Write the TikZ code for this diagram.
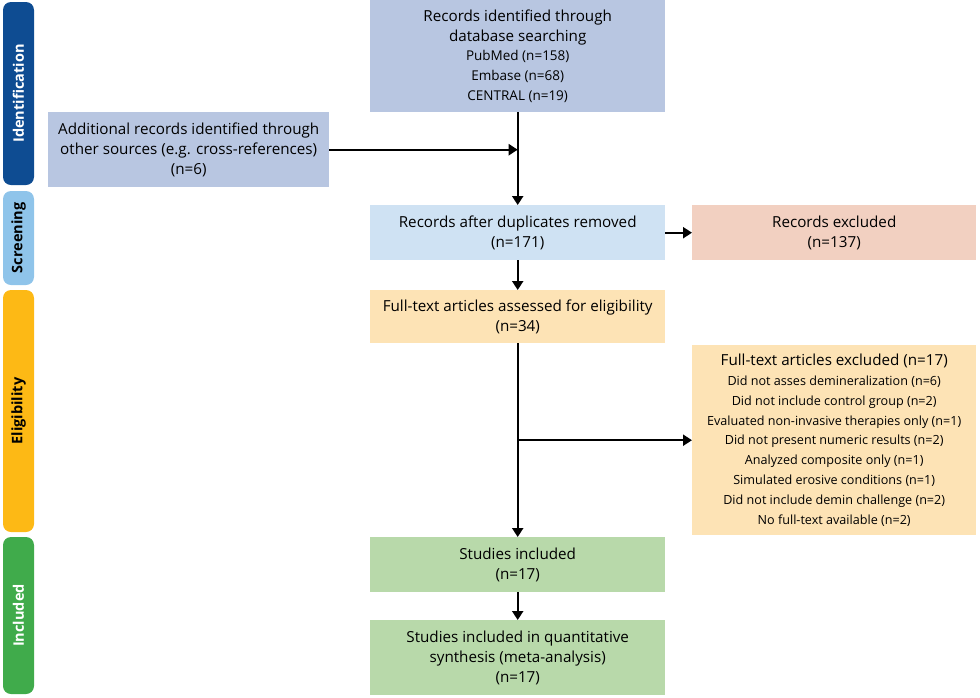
\documentclass[tikz,border=0pt]{standalone}
\usepackage{fontspec}
\setmainfont{Open Sans}
\usepackage{tikz}
\usetikzlibrary{arrows.meta,positioning,calc}
\definecolor{idblue}{RGB}{14,76,146}
\definecolor{scrblue}{RGB}{143,196,234}
\definecolor{eliyellow}{RGB}{253,185,21}
\definecolor{incgreen}{RGB}{64,171,75}
\definecolor{dbfill}{RGB}{184,198,225}
\definecolor{dupfill}{RGB}{207,226,243}
\definecolor{exfill}{RGB}{242,208,193}
\definecolor{ftfill}{RGB}{253,227,181}
\definecolor{ingreen}{RGB}{184,217,170}
\newcommand{\subline}[1]{{\fontsize{12.6}{20.7}\selectfont #1}}
\begin{document}
\begin{tikzpicture}[x=1pt,y=-1pt,
  box/.style={anchor=north west,inner sep=0pt,align=center,font=\fontsize{15.2}{19.8}\selectfont},
  phase/.style={rotate=90,rounded corners=8pt,minimum height=31pt,inner sep=0pt,font=\fontsize{14.5}{16}\selectfont\bfseries},
  arr/.style={line width=2.2pt,-{Triangle[length=9pt,width=11pt]}}]
\useasboundingbox (0,0) rectangle (980,697);
% phases on the left
\node[phase,fill=idblue,text=white,minimum width=183pt] (ident) at (18.5,93.5){Identification};
\node[phase,fill=scrblue,text=black,minimum width=94pt] (screen) at (18.5,238){Screening};
\node[phase,fill=eliyellow,text=black,minimum width=242pt] (elig) at (18.5,411){Eligibility};
\node[phase,fill=incgreen,text=white,minimum width=157pt] (incl) at (18.5,615.5){Included};
% boxes
\node[box,fill=dbfill,minimum width=295pt,minimum height=112pt] (db) at (370,0){Records identified through\\database searching\\[-1pt]
  {\fontsize{13.5}{17.8}\selectfont PubMed (n=158)}\\{\fontsize{13.5}{17.8}\selectfont Embase (n=68)}\\{\fontsize{13.5}{17.8}\selectfont CENTRAL (n=19)}};
\node[box,fill=dbfill,minimum width=281pt,minimum height=75pt] (add) at (48,112){Additional records identified through\\other sources (e.g. cross-references)\\(n=6)};
\node[box,fill=dupfill,minimum width=295pt,minimum height=55pt] (dup) at (370,205){Records after duplicates removed\\(n=171)};
\node[box,fill=exfill,minimum width=284pt,minimum height=55pt] (excl) at (692,205){Records excluded\\(n=137)};
\node[box,fill=ftfill,minimum width=295pt,minimum height=53pt] (ft) at (370,290){Full-text articles assessed for eligibility\\(n=34)};
\node[box,fill=ftfill,minimum width=284pt,minimum height=190pt] (ftex) at (692,345){Full-text articles excluded (n=17)\\
  \subline{Did not asses demineralization (n=6)}\\
  \subline{Did not include control group (n=2)}\\
  \subline{Evaluated non-invasive therapies only (n=1)}\\
  \subline{Did not present numeric results (n=2)}\\
  \subline{Analyzed composite only (n=1)}\\
  \subline{Simulated erosive conditions (n=1)}\\
  \subline{Did not include demin challenge (n=2)}\\
  \subline{No full-text available (n=2)}};
\node[box,fill=ingreen,minimum width=295pt,minimum height=55pt] (stud) at (370,537){Studies included\\(n=17)};
\node[box,fill=ingreen,minimum width=295pt,minimum height=75pt] (quant) at (370,620){Studies included in quantitative\\synthesis (meta-analysis)\\(n=17)};
% connectors
\coordinate (join) at (db.south |- add.east);
\coordinate (split) at (ft.south |- ftex.west);
\draw[arr] (db) -- (dup);
\draw[arr] (add) -- (join);
\draw[arr] (dup) -- (excl);
\draw[arr] (dup) -- (ft);
\draw[arr] (ft) -- (stud);
\draw[arr] (split) -- (ftex);
\draw[arr] (stud) -- (quant);
\end{tikzpicture}
\end{document}
